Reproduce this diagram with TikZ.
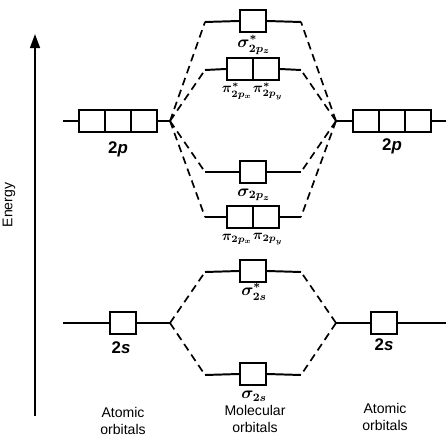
\documentclass[tikz,border=0pt]{standalone}
\usepackage{fontspec}
\setmainfont{Liberation Sans}
\usetikzlibrary{arrows.meta}
\tikzset{
  orb/.style={draw,line width=1.6pt,fill=white,minimum width=0.65cm,minimum height=0.55cm,inner sep=0pt},
  lvl/.style={line width=1.4pt},
  corr/.style={line width=1.2pt,dash pattern=on 5.5pt off 3.5pt},
  lab/.style={font=\large\boldmath},
  pilab/.style={font=\normalsize\boldmath,inner sep=0pt},
  atlab/.style={font=\large\bfseries},
  captext/.style={font=\normalsize,align=center,inner sep=0pt},
}

\begin{document}
\begin{tikzpicture}[x=0.025cm,y=-0.025cm]
      \useasboundingbox (0,0) rectangle (446,440);

      % energy axis
      \coordinate (ebot) at (35,416);
      \coordinate (etop) at (35,34);
      \draw[line width=1.4pt,-{Triangle[length=10pt,width=7pt]}] (ebot) -- (etop);
      \node[rotate=90,font=\normalsize] (energy) at (9,205) {Energy};

      % left atom
      \coordinate (pLa) at (63,121);
      \node[orb] (pL1) at (92,121) {};
      \node[orb] (pL2) at (118,121) {};
      \node[orb] (pL3) at (144,121) {};
      \coordinate (pLs) at (170,121);
      \draw[lvl] (pLa) -- (pL1.west) (pL3.east) -- (pLs);
      \node[atlab] (pLt) at (118,149) {2\textit{p}};

      \coordinate (sLa) at (63,323);
      \node[orb] (sL) at (123,323) {};
      \coordinate (sLs) at (170,323);
      \draw[lvl] (sLa) -- (sL.west) (sL.east) -- (sLs);
      \node[atlab] (sLt) at (121,348) {2\textit{s}};

      % right atom
      \coordinate (pRs) at (336,121);
      \node[orb] (pR1) at (366,121) {};
      \node[orb] (pR2) at (392,121) {};
      \node[orb] (pR3) at (418,121) {};
      \coordinate (pRa) at (446,121);
      \draw[lvl] (pRs) -- (pR1.west) (pR3.east) -- (pRa);
      \node[atlab] (pRt) at (392,146) {2\textit{p}};

      \coordinate (sRs) at (336,323);
      \node[orb] (sR) at (384,323) {};
      \coordinate (sRa) at (446,323);
      \draw[lvl] (sRs) -- (sR.west) (sR.east) -- (sRa);
      \node[atlab] (sRt) at (384,345) {2\textit{s}};

      % molecular orbitals
      \node[orb] (szs) at (253,21) {};
      \coordinate (szsL) at (205,22);
      \coordinate (szsR) at (301,22);
      \draw[lvl] (szsL) -- (szs.west) (szs.east) -- (szsR);
      \node[lab] at (254,45) {$\sigma^*_{2p_z}$};

      \node[orb] (pxs) at (240,69) {};
      \node[orb] (pys) at (266,69) {};
      \coordinate (pisL) at (205,70);
      \coordinate (pisR) at (301,70);
      \draw[lvl] (pisL) -- (pxs.west) (pys.east) -- (pisR);
      \node[pilab] at (237,91) {$\pi^*_{2p_x}$};
      \node[pilab] at (268,91) {$\pi^*_{2p_y}$};

      \node[orb] (sz) at (253,172) {};
      \coordinate (szL) at (205,172);
      \coordinate (szR) at (301,172);
      \draw[lvl] (szL) -- (sz.west) (sz.east) -- (szR);
      \node[lab] at (254,195) {$\sigma_{2p_z}$};

      \node[orb] (px) at (240,217) {};
      \node[orb] (py) at (266,217) {};
      \coordinate (piL) at (205,217);
      \coordinate (piR) at (301,217);
      \draw[lvl] (piL) -- (px.west) (py.east) -- (piR);
      \node[pilab] at (237,239) {$\pi_{2p_x}$};
      \node[pilab] at (268,239) {$\pi_{2p_y}$};

      \node[orb] (sss) at (253,271) {};
      \coordinate (sssL) at (205,272);
      \coordinate (sssR) at (301,272);
      \draw[lvl] (sssL) -- (sss.west) (sss.east) -- (sssR);
      \node[lab] at (254,292) {$\sigma^*_{2s}$};

      \node[orb] (ss) at (253,374) {};
      \coordinate (ssL) at (205,375);
      \coordinate (ssR) at (301,375);
      \draw[lvl] (ssL) -- (ss.west) (ss.east) -- (ssR);
      \node[lab] at (254,396) {$\sigma_{2s}$};

      % correlation lines
      \foreach \m in {szsL,pisL,szL,piL} \draw[corr] (pLs) -- (\m);
      \foreach \m in {szsR,pisR,szR,piR} \draw[corr] (pRs) -- (\m);
      \foreach \m in {sssL,ssL} \draw[corr] (sLs) -- (\m);
      \foreach \m in {sssR,ssR} \draw[corr] (sRs) -- (\m);

      % captions
      \node[captext] (capL) at (123,421) {Atomic\\orbitals};
      \node[captext] (capM) at (255,419) {Molecular\\orbitals};
      \node[captext] (capR) at (385,417) {Atomic\\orbitals};
    \end{tikzpicture}
\end{document}
